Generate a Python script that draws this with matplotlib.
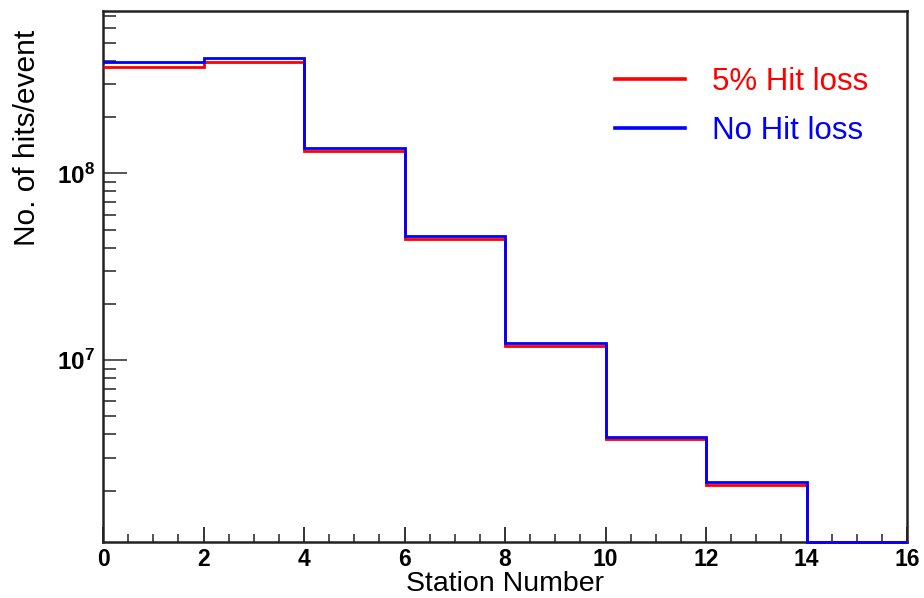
import matplotlib
matplotlib.use("Agg")
import matplotlib.pyplot as plt
import numpy as np
from matplotlib.ticker import FixedLocator, LogLocator, FixedFormatter, MultipleLocator, NullFormatter

plt.rcParams['font.family'] = ['Liberation Sans', 'DejaVu Sans']
plt.rcParams['mathtext.fontset'] = 'custom'
plt.rcParams['mathtext.rm'] = 'Liberation Sans'
plt.rcParams['mathtext.bf'] = 'Liberation Sans:bold'
plt.rcParams['mathtext.it'] = 'Liberation Sans:italic'

# Data
station_edges = [0, 2, 4, 6, 8, 10, 12, 14, 16]
hits_5pct_loss = [3.73e8, 3.94e8, 1.31e8, 4.43e7, 1.19e7, 3.76e6, 2.14e6, 1.067e6]
hits_no_loss = [3.93e8, 4.13e8, 1.37e8, 4.62e7, 1.238e7, 3.88e6, 2.22e6, 1.067e6]
labels = ["5% Hit loss", "No Hit loss"]
y_limits = (1.067e6, 7.45e8)
x_ticks = [0, 2, 4, 6, 8, 10, 12, 14, 16]

fig = plt.figure(figsize=(9.24, 5.98), dpi=100)
ax = fig.add_axes([103/924, 1-541.5/598, (907-103)/924, (541.5-10.5)/598])

ax.stairs(hits_5pct_loss, station_edges, baseline=None, color='#ff0000', lw=2.0,
          label=labels[0], clip_on=False, zorder=3)
ax.stairs(hits_no_loss, station_edges, baseline=None, color='#0000ff', lw=2.0,
          label=labels[1], clip_on=False, zorder=3.1)

ax.set_yscale('log')
ax.set_xlim(0, 16)
ax.set_ylim(*y_limits)

ax.xaxis.set_major_locator(FixedLocator(x_ticks))
ax.xaxis.set_minor_locator(MultipleLocator(0.5))
ax.set_xticklabels([str(t) for t in x_ticks], fontsize=16.5, fontweight='bold')

ax.yaxis.set_major_locator(FixedLocator([1e7, 1e8]))
ax.yaxis.set_major_formatter(FixedFormatter([r'$\mathbf{10^{7}}$', r'$\mathbf{10^{8}}$']))
ax.yaxis.set_minor_locator(LogLocator(base=10, subs=np.arange(2, 10)))
ax.yaxis.set_minor_formatter(NullFormatter())
for lab in ax.get_yticklabels():
    lab.set_fontsize(17.5)

ax.tick_params(axis='x', which='major', direction='in', length=11, width=1.4, color='#333333', pad=5, top=False)
ax.tick_params(axis='x', which='minor', direction='in', length=6, width=1.2, color='#333333', top=False)
ax.tick_params(axis='y', which='major', direction='in', length=17, width=1.4, color='#555555', pad=6, right=False)
ax.tick_params(axis='y', which='minor', direction='in', length=9, width=1.2, color='#333333', right=False)

for s in ax.spines.values():
    s.set_linewidth(1.8)
    s.set_color('#222222')

ax.set_xlabel('Station Number', fontsize=20.5, labelpad=0)
ax.set_ylabel('No. of hits/event', fontsize=21.5, va='center', ha='center')
ax.yaxis.set_label_coords((27-103)/804, (541.5-138)/531)

leg = ax.legend(loc='upper left', bbox_to_anchor=((615-103)/804, (541.5-67)/531),
                frameon=False, fontsize=22.5, handlelength=2.25, handletextpad=0.85,
                labelspacing=0.6, borderpad=0, borderaxespad=0, labelcolor='linecolor')
for h in leg.legend_handles:
    h.set_linewidth(2.6)

fig.savefig('out.png', dpi=100)
